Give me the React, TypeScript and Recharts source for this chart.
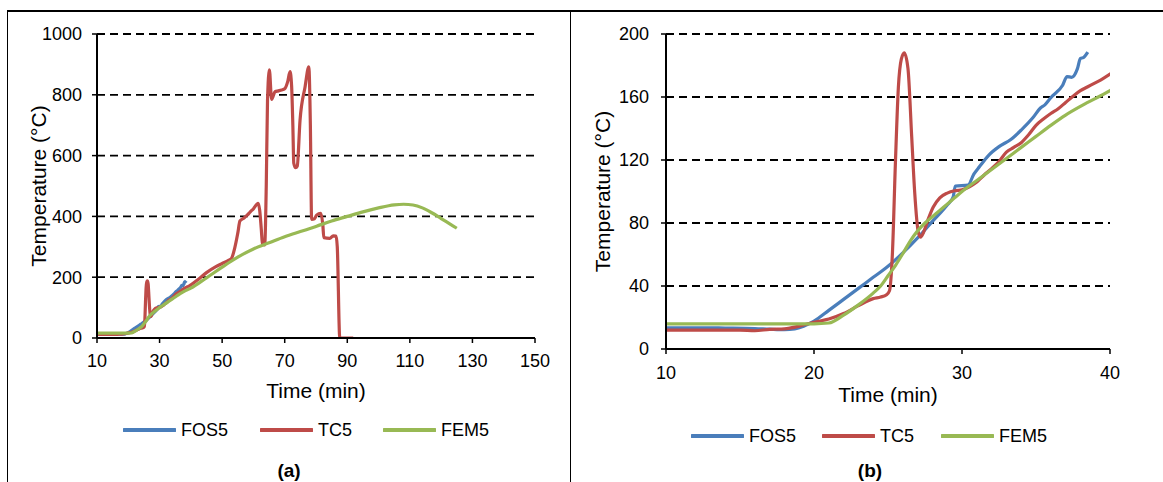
import { CartesianGrid, Label, Legend, Line, LineChart, XAxis, YAxis } from 'recharts';

const FONT = '"Liberation Sans", Arial, sans-serif';
const BLUE = '#4A7EBB';
const RED = '#BE4B48';
const GREEN = '#98B954';

// [time (min), temperature (°C)]
const fos5: [number, number][] = [
  [10, 13.5], [12, 13.5], [14, 13.3], [16, 13], [17, 12.6], [18, 12.3], [18.7, 12.8], [19.3, 14.5],
  [20, 17.7], [21, 24.5], [22, 31.5], [23, 38.5], [24, 45.5], [25, 52.5], [26, 61], [27, 70.5],
  [28, 81], [29, 91.5], [29.4, 96.5], [29.55, 103.5], [30.4, 104], [30.8, 111], [31.2, 116],
  [31.8, 123], [32.5, 128.5], [33.3, 133], [34, 139], [34.8, 147], [35.3, 153], [35.6, 155],
  [36, 159.5], [36.8, 167.5], [37.1, 173], [37.4, 172.5], [37.8, 178], [38, 184.5], [38.2, 185],
  [38.35, 186.5], [38.5, 188.5],
];

const tc5: [number, number][] = [
  [10, 12], [13, 12], [15, 12], [16, 11.6], [17, 12.5], [18, 12.8], [19, 14.5], [20, 17], [21, 19],
  [22, 22.5], [23, 27.5], [24, 32], [24.5, 33], [24.9, 34.5], [25.1, 37], [25.3, 61], [25.5, 118],
  [25.7, 166], [25.9, 184], [26.1, 188], [26.35, 178], [26.6, 135], [26.8, 100], [27.05, 74],
  [27.2, 71], [27.4, 74], [27.7, 82], [28.05, 90], [28.5, 96], [29, 99], [29.5, 100.5], [30, 101],
  [30.5, 103], [31, 106], [31.5, 110.5], [32, 114.5], [32.5, 119], [33, 125], [33.5, 128], [34, 131],
  [34.5, 136], [35, 142], [35.5, 146], [36, 149.5], [36.5, 152.5], [37, 156.5], [37.5, 160.5],
  [38, 164], [38.5, 166.5], [39, 169], [39.5, 171.5], [40, 174.5], [42, 190], [45, 215], [48, 235],
  [50, 245], [52, 255], [53, 262], [54, 295], [55, 345], [55.7, 385], [57, 395], [58, 404], [59, 415],
  [60, 425], [61.5, 443], [62, 420], [62.5, 360], [62.9, 308], [63.6, 306], [64.1, 500], [64.5, 780],
  [65.1, 882], [65.8, 785], [66.9, 810], [68, 813], [69, 816], [70, 820], [71, 845], [71.7, 876],
  [72.2, 830], [72.6, 700], [72.9, 575], [73.5, 560], [74, 565], [74.9, 717], [76.5, 826],
  [77.7, 892], [78.2, 700], [78.6, 390], [79.5, 392], [80.2, 404], [81.5, 410], [82.2, 370],
  [82.5, 330], [84.4, 328], [85.5, 336], [86.4, 335], [86.8, 300], [87.6, 0], [91.9, 0],
];

const fem5: [number, number][] = [
  [10, 16], [14, 16], [18, 16], [20, 16], [21, 16.5], [22, 21.5], [23, 28], [24, 35.5], [24.5, 40],
  [25, 46.5], [25.5, 53], [26, 60.5], [26.5, 68.5], [27, 75], [27.5, 80], [28, 84], [28.5, 88],
  [29, 92], [29.5, 96], [30, 100], [31, 107], [32, 114], [33, 121], [34, 128], [35, 135], [36, 142],
  [37, 148.5], [38, 154], [39, 159], [40, 164], [45, 198], [50, 233], [52.5, 250], [55, 266],
  [60, 293], [65, 313], [70, 333], [75, 350], [80, 367], [85, 385], [90, 400], [95, 415], [100, 428],
  [105, 438], [108, 440], [111, 437.5], [114, 428], [117, 412], [120, 393], [122.5, 377], [125, 361],
];

const xTicksA = [10, 30, 50, 70, 90, 110, 130, 150];
const yTicksA = [0, 200, 400, 600, 800, 1000];
const xTicksB = [10, 20, 30, 40];
const yTicksB = [0, 40, 80, 120, 160, 200];

const seriesNames = ['FOS5', 'TC5', 'FEM5'];
const seriesColors = [BLUE, RED, GREEN];
const seriesData = [fos5, tc5, fem5].map((pts) => pts.map(([t, v]) => ({ t, v })));

const tickStyle = { fontSize: 18, fill: '#000', fontFamily: FONT };
const titleStyle = { fontSize: 21, fill: '#000', fontFamily: FONT };

const LegendRow = ({ xs }: { xs: number[] }) => (
  <div style={{ position: 'relative', height: 24, fontFamily: FONT, fontSize: 18, color: '#000' }}>
    {seriesNames.map((name, i) => (
      <div key={name} style={{ position: 'absolute', left: xs[i], top: 0, height: 24, display: 'flex', alignItems: 'center', whiteSpace: 'nowrap' }}>
        <svg width={53} height={8} style={{ marginRight: 5 }}>
          <line x1={1} y1={4} x2={52} y2={4} stroke={seriesColors[i]} strokeWidth={4} strokeLinecap="round" />
        </svg>
        <span style={{ lineHeight: '24px' }}>{name}</span>
      </div>
    ))}
  </div>
);

interface PanelProps {
  left: number;
  width: number;
  margin: { top: number; right: number; bottom: number; left: number };
  xTicks: number[];
  yTicks: number[];
  yAxisWidth: number;
  yTickMargin: number;
  xTickMargin: number;
  xLabelOffset: number;
  yLabelOffset: number;
  legendTop: number;
  legendX: number[];
  caption: string;
  captionX: number;
}

const Panel = (p: PanelProps) => (
  <div style={{ position: 'absolute', left: p.left, top: 0 }}>
    <LineChart width={p.width} height={482} margin={p.margin}>
      <CartesianGrid vertical={false} stroke="#000" strokeDasharray="8 5" strokeWidth={1.8} />
      <XAxis
        type="number"
        dataKey="t"
        domain={[p.xTicks[0], p.xTicks[p.xTicks.length - 1]]}
        ticks={p.xTicks}
        interval={0}
        allowDataOverflow
        height={60}
        tickSize={5}
        tickMargin={p.xTickMargin}
        tick={tickStyle}
        axisLine={{ stroke: '#000', strokeWidth: 2 }}
        tickLine={{ stroke: '#000', strokeWidth: 1.5 }}
      >
        <Label value="Time (min)" position="insideBottom" offset={p.xLabelOffset} style={titleStyle} />
      </XAxis>
      <YAxis
        type="number"
        domain={[p.yTicks[0], p.yTicks[p.yTicks.length - 1]]}
        ticks={p.yTicks}
        interval={0}
        allowDataOverflow
        width={p.yAxisWidth}
        tickSize={5}
        tickMargin={p.yTickMargin}
        tick={tickStyle}
        axisLine={{ stroke: '#000', strokeWidth: 2 }}
        tickLine={{ stroke: '#000', strokeWidth: 1.5 }}
      >
        <Label
          value="Temperature (°C)"
          angle={-90}
          position="insideLeft"
          offset={p.yLabelOffset}
          style={{ ...titleStyle, textAnchor: 'middle' }}
        />
      </YAxis>
      <Legend
        layout="horizontal"
        verticalAlign="middle"
        align="center"
        wrapperStyle={{ top: p.legendTop, left: 1, width: p.width - 2, height: 24 }}
        content={() => <LegendRow xs={p.legendX.map((x) => x - 1)} />}
      />
      {seriesData.map((data, i) => (
        <Line
          key={seriesNames[i]}
          data={data}
          dataKey="v"
          name={seriesNames[i]}
          type="monotone"
          stroke={seriesColors[i]}
          strokeWidth={3.2}
          dot={false}
          activeDot={false}
          isAnimationActive={false}
        />
      ))}
    </LineChart>
    <div
      style={{
        position: 'absolute',
        left: p.captionX - 50,
        top: 461,
        width: 100,
        textAlign: 'center',
        fontFamily: FONT,
        fontWeight: 'bold',
        fontSize: 19,
        lineHeight: '20px',
      }}
    >
      {p.caption}
    </div>
  </div>
);

export default function App() {
  return (
    <div style={{ position: 'absolute', left: 0, top: 0, width: 1163, height: 482, overflow: 'hidden', background: '#fff' }}>
      <div style={{ position: 'absolute', left: 7, top: 10, width: 1156, height: 1.5, background: '#000' }} />
      <div style={{ position: 'absolute', left: 6.5, top: 10, width: 1.5, height: 472, background: '#000' }} />
      <div style={{ position: 'absolute', left: 569.5, top: 10, width: 1.5, height: 472, background: '#000' }} />
      <Panel
        left={0}
        width={570}
        margin={{ top: 34, right: 35, bottom: 84, left: 37 }}
        xTicks={xTicksA}
        yTicks={yTicksA}
        yAxisWidth={60}
        yTickMargin={10}
        xTickMargin={11}
        xLabelOffset={0}
        yLabelOffset={2}
        legendTop={418}
        legendX={[123, 260, 383]}
        caption="(a)"
        captionX={289}
      />
      <Panel
        left={570}
        width={593}
        margin={{ top: 34, right: 53, bottom: 73, left: 30 }}
        xTicks={xTicksB}
        yTicks={yTicksB}
        yAxisWidth={66}
        yTickMargin={12}
        xTickMargin={12}
        xLabelOffset={7}
        yLabelOffset={3}
        legendTop={424}
        legendX={[121, 252, 371]}
        caption="(b)"
        captionX={300}
      />
    </div>
  );
}
